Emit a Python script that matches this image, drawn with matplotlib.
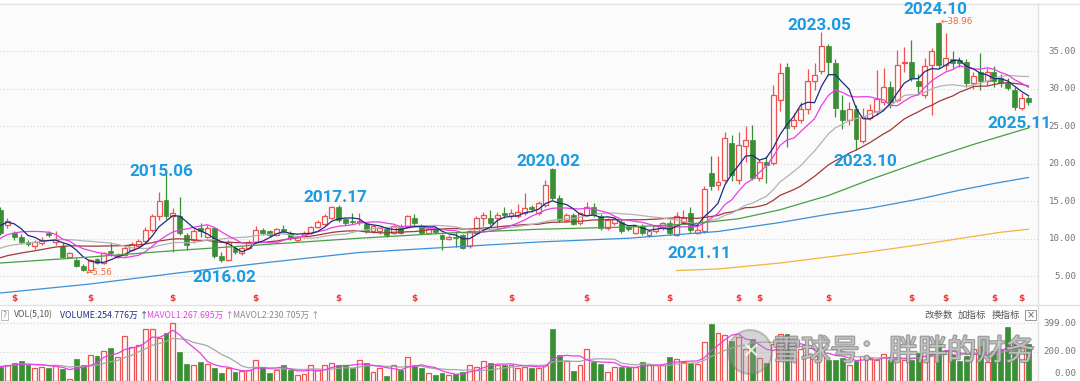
import numpy as np
import pandas as pd
import matplotlib
matplotlib.use("Agg")
import matplotlib.pyplot as plt
import matplotlib.transforms as mtransforms
import matplotlib.patheffects as pe
from matplotlib.lines import Line2D
from matplotlib.patches import Ellipse, Rectangle

plt.rcParams["font.family"] = ["DejaVu Sans", "Noto Sans CJK SC"]

# ---- monthly K-line data, 2013-06 .. 2025-11 ----
months = pd.period_range("2013-06", "2025-11", freq="M")

open_ = [
    13.9, 11.9, 10.8, 10.3, 9.6, 9.0, 9.4, 10.85, 9.6, 9.1,
    7.65, 7.2, 6.4, 5.8, 7.3, 6.85, 8.4, 7.6, 7.9, 8.55,
    9.0, 9.7, 11.2, 13.0, 15.2, 13.0, 13.0, 10.5, 9.9, 11.4,
    10.3, 11.4, 7.7, 7.2, 8.8, 8.1, 8.8, 9.65, 11.2, 11.0,
    10.55, 11.3, 10.85, 9.9, 10.3, 10.8, 11.55, 12.0, 12.8, 14.2,
    12.6, 12.4, 12.2, 12.0, 11.0, 11.0, 11.3, 10.85, 11.7, 11.6,
    12.75, 11.7, 10.8, 11.3, 10.5, 10.0, 10.3, 10.5, 9.0, 10.8,
    12.76, 12.85, 12.8, 13.5, 13.0, 13.0, 13.4, 14.2, 13.4, 14.5,
    19.3, 15.4, 12.5, 13.2, 12.1, 13.2, 14.3, 13.0, 11.4, 12.1,
    12.3, 11.65, 10.85, 11.7, 10.55, 11.0, 11.4, 12.1, 10.55, 12.3,
    13.4, 10.8, 11.0, 18.8, 17.2, 17.9, 22.8, 17.9, 22.4, 23.2,
    18.1, 20.2, 20.1, 28.5, 32.9, 25.0, 25.9, 27.3, 31.0, 32.4,
    35.7, 33.5, 27.2, 25.9, 27.3, 23.0, 26.1, 27.0, 28.3, 30.2,
    28.5, 33.4, 33.6, 31.1, 29.2, 33.2, 38.8, 33.2, 34.0, 33.8,
    33.6, 30.85, 32.2, 31.0, 32.3, 31.4, 30.85, 29.9, 27.4, 28.8,
]
high = [
    14.2, 12.8, 11.0, 10.6, 9.9, 9.8, 10.2, 11.0, 11.0, 9.4,
    8.3, 7.4, 6.6, 7.3, 7.5, 8.3, 9.6, 8.1, 9.0, 9.65,
    10.0, 11.6, 13.3, 16.3, 18.9, 14.1, 15.6, 10.8, 11.3, 12.1,
    11.8, 11.6, 8.2, 9.9, 9.0, 9.0, 9.8, 11.7, 11.4, 11.2,
    11.5, 11.8, 11.0, 10.5, 11.0, 11.7, 12.5, 13.3, 14.4, 14.5,
    12.8, 13.5, 13.5, 12.3, 11.9, 11.6, 11.5, 11.9, 12.0, 13.2,
    13.3, 12.0, 11.5, 11.5, 10.7, 10.5, 10.9, 10.7, 11.2, 13.0,
    13.6, 13.8, 13.6, 14.2, 14.0, 14.7, 16.1, 14.5, 15.0, 17.9,
    19.5, 15.9, 13.5, 13.4, 13.6, 14.9, 14.8, 13.3, 12.8, 12.9,
    12.6, 11.9, 11.9, 12.0, 11.2, 11.9, 12.3, 12.5, 13.6, 13.9,
    14.2, 11.6, 17.0, 21.0, 21.0, 24.2, 23.8, 24.2, 25.0, 25.2,
    20.6, 21.0, 30.5, 33.4, 33.4, 26.8, 28.3, 32.7, 33.4, 37.6,
    36.0, 34.0, 29.2, 28.2, 27.8, 27.5, 28.0, 32.5, 32.8, 31.0,
    35.2, 35.6, 36.5, 32.0, 34.1, 35.5, 38.96, 37.5, 35.0, 34.3,
    34.0, 32.2, 34.8, 32.8, 33.0, 32.0, 31.5, 30.3, 29.5, 29.0,
]
low = [
    10.5, 11.5, 9.9, 9.3, 9.0, 8.6, 9.2, 10.2, 9.2, 7.5,
    7.5, 6.2, 5.7, 5.56, 6.7, 6.7, 7.7, 7.4, 7.7, 8.4,
    8.8, 9.5, 10.9, 12.5, 12.7, 8.3, 10.5, 8.5, 9.5, 10.2,
    10.1, 7.4, 6.9, 7.0, 8.0, 7.9, 8.6, 9.5, 10.5, 10.3,
    10.4, 10.8, 9.9, 9.6, 10.1, 10.6, 11.4, 11.8, 12.6, 12.2,
    11.9, 12.0, 11.8, 10.8, 10.8, 10.7, 10.2, 10.7, 10.6, 11.4,
    11.6, 10.6, 10.6, 10.6, 8.5, 9.8, 8.9, 8.6, 8.8, 10.6,
    11.7, 11.9, 11.4, 12.8, 12.7, 12.8, 13.2, 13.6, 13.2, 14.3,
    15.2, 12.3, 12.3, 11.8, 11.9, 13.0, 12.9, 11.2, 11.2, 11.9,
    10.8, 11.0, 10.7, 10.5, 10.3, 10.8, 11.2, 10.5, 10.4, 12.0,
    10.8, 10.6, 10.8, 16.5, 16.5, 17.6, 17.7, 17.3, 20.3, 17.8,
    17.7, 17.4, 19.9, 27.0, 22.3, 24.6, 25.5, 26.7, 29.9, 32.0,
    31.8, 26.3, 24.6, 25.2, 21.9, 22.8, 25.8, 26.5, 27.9, 27.5,
    28.2, 32.3, 31.0, 29.5, 28.8, 26.5, 32.8, 32.5, 32.8, 32.9,
    30.3, 30.0, 29.9, 30.5, 30.3, 30.3, 29.8, 27.2, 27.2, 27.9,
]
close = [
    10.8, 12.4, 10.2, 9.65, 9.3, 9.55, 9.9, 10.5, 10.0, 7.65,
    8.1, 6.4, 5.9, 7.2, 6.85, 8.1, 8.1, 7.9, 8.75, 9.3,
    9.75, 11.2, 13.0, 15.0, 13.0, 13.4, 10.8, 9.2, 11.0, 11.0,
    11.4, 7.7, 7.2, 9.6, 8.2, 8.75, 9.6, 11.2, 10.8, 10.55,
    11.3, 11.0, 10.1, 10.3, 10.85, 11.55, 12.2, 13.0, 14.2, 12.5,
    12.1, 12.2, 12.4, 11.0, 11.7, 11.4, 10.55, 11.7, 10.85, 13.0,
    12.1, 10.85, 11.3, 10.9, 10.0, 10.3, 10.1, 8.8, 11.0, 12.75,
    13.2, 12.1, 13.2, 13.2, 13.4, 13.6, 14.1, 14.0, 14.75, 17.2,
    15.4, 12.5, 13.2, 12.0, 13.4, 14.3, 13.2, 11.4, 12.5, 12.6,
    11.0, 11.3, 11.7, 10.8, 11.0, 11.7, 12.1, 10.8, 13.0, 12.75,
    11.2, 11.2, 16.7, 17.1, 17.65, 23.4, 18.5, 22.5, 23.2, 18.1,
    20.3, 19.9, 29.2, 32.1, 24.8, 25.9, 27.3, 31.0, 31.9, 35.7,
    33.6, 27.4, 25.9, 27.3, 23.3, 26.3, 27.2, 28.6, 30.2, 28.3,
    33.2, 33.6, 31.4, 30.4, 33.1, 35.1, 33.2, 34.1, 33.4, 33.5,
    30.8, 31.7, 31.1, 32.3, 31.0, 30.8, 30.1, 27.6, 28.8, 28.2,
]
# volume, 万
volume = [
    100, 108, 124, 136, 112, 93, 100, 88, 112, 81,
    12, 153, 112, 177, 172, 208, 227, 167, 311, 232,
    250, 363, 363, 300, 332, 399, 198, 117, 112, 131,
    117, 90, 53, 88, 60, 69, 76, 148, 100, 53,
    76, 108, 76, 41, 45, 108, 76, 112, 124, 112,
    112, 88, 148, 124, 65, 88, 36, 112, 76, 167,
    112, 93, 53, 41, 53, 41, 45, 65, 112, 100,
    136, 124, 112, 112, 112, 93, 100, 93, 93, 112,
    363, 179, 141, 72, 112, 220, 131, 120, 65, 100,
    100, 100, 96, 129, 112, 112, 112, 165, 155, 131,
    124, 117, 272, 392, 330, 315, 280, 304, 220, 292,
    160, 124, 256, 327, 327, 160, 220, 184, 172, 232,
    148, 148, 160, 112, 136, 172, 160, 148, 184, 148,
    160, 148, 148, 196, 208, 184, 256, 208, 184, 136,
    170, 220, 240, 130, 208.57, 220.7, 375, 256, 232, 254.776,
]
# closes 2011-01 .. 2013-05 (left of the window), only feed MA5..MA30
pre_close = [
    4.4, 4.6, 4.5, 4.8, 5.0, 4.9, 5.2, 5.4, 5.3, 5.6,
    6.6, 6.9, 7.2, 7.0, 7.4, 7.8, 7.5, 7.9, 8.2, 8.0,
    7.6, 7.9, 8.3, 8.8, 9.4, 10.2, 11.3, 12.8, 13.9,
]

# long averages
ma60_month = ["2013-06", "2014-07", "2015-08", "2016-09", "2017-10", "2018-11",
              "2019-12", "2021-01", "2021-10", "2022-05", "2022-11", "2023-06",
              "2023-12", "2024-08", "2025-03", "2025-11"]
ma60_value = [6.8, 7.6, 8.5, 9.3, 10.1, 10.8, 11.3, 11.6, 12.0, 12.7, 13.9, 15.8,
              17.9, 20.5, 22.6, 24.8]
ma120_month = ["2013-06", "2014-07", "2015-08", "2016-09", "2017-10", "2018-11",
               "2019-12", "2021-01", "2022-02", "2022-11", "2023-06", "2023-12",
               "2024-07", "2025-01", "2025-06", "2025-11"]
ma120_value = [2.8, 4.0, 5.5, 6.9, 8.2, 8.9, 9.6, 10.1, 11.0, 12.2, 13.3, 14.1,
               15.3, 16.5, 17.4, 18.2]
ma250_month = ["2021-08", "2022-02", "2022-11", "2023-06", "2023-12", "2024-07",
               "2025-02", "2025-07", "2025-11"]
ma250_value = [5.8, 6.0, 6.8, 7.6, 8.3, 9.2, 10.2, 10.9, 11.3]

dividend_month = ["2013-08", "2014-07", "2015-07", "2016-07", "2017-07", "2018-06",
                  "2019-08", "2020-07", "2021-07", "2022-05", "2022-08", "2023-06",
                  "2024-06", "2024-11", "2025-06", "2025-10"]

# blue labels: text, centre in pixels
labels = [
    ("2015.06", 161, 171), ("2016.02", 224, 278), ("2017.17", 335, 197),
    ("2020.02", 548, 162), ("2021.11", 699, 253), ("2023.05", 819, 25),
    ("2023.10", 865, 161), ("2024.10", 935, 9), ("2025.11", 1019, 123),
]

# ---- figure ----
W, H = 1080, 381
BG = "#fbfbfb"
RED, GREEN = "#ef5350", "#3a8f35"


def fx(x):
    return x / W


def fy(y):
    return 1 - y / H


fig = plt.figure(figsize=(W / 100, H / 100), dpi=100)
fig.patch.set_facecolor("white")

ax = fig.add_axes([0, fy(305), fx(1038), fy(4) - fy(305)])
axv = fig.add_axes([0, 0, fx(1038), fy(321)])
XLIM = (-0.06, 150.38)
for a in (ax, axv):
    a.set_facecolor(BG)
    a.set_xticks([])
    a.set_yticks([])
    a.set_xlim(*XLIM)
    for s in a.spines.values():
        s.set_visible(False)
ax.set_ylim(1.2, 41.33)
axv.set_ylim(0, 415)

idx = {str(p): i for i, p in enumerate(months)}
x = np.arange(len(months))
o, h, l, c = (np.array(v, dtype=float) for v in (open_, high, low, close))
vol = np.array(volume, dtype=float)
up = c >= o
lo_b, hi_b = np.minimum(o, c), np.maximum(o, c)
body = np.maximum(hi_b - lo_b, 0.06)

# grid
grid_kw = dict(colors="#d4d4d4", linestyles=(0, (1, 2)), linewidth=0.8, zorder=0)
ax.hlines(np.arange(5, 40, 5), *XLIM, **grid_kw)
axv.hlines([200, 399], *XLIM, **grid_kw)

# candles
ax.vlines(x[~up], l[~up], h[~up], color=GREEN, lw=0.9, zorder=2)
ax.bar(x[~up], body[~up], bottom=lo_b[~up], width=0.72, color=GREEN,
       edgecolor=GREEN, lw=0.5, zorder=2)
ax.vlines(x[up], hi_b[up], h[up], color=RED, lw=0.9, zorder=2)
ax.vlines(x[up], l[up], lo_b[up], color=RED, lw=0.9, zorder=2)
ax.bar(x[up], body[up], bottom=lo_b[up], width=0.72, facecolor=BG,
       edgecolor=RED, lw=0.9, zorder=2)

# moving averages
hist = pd.Series(pre_close + close, dtype=float)
n0 = len(pre_close)
ma_colors = {5: "#1c2a80", 10: "#e640e6", 20: "#b3b3b3", 30: "#9e3a3a"}
for n in (30, 20, 10, 5):
    ma = hist.rolling(n).mean().to_numpy()[n0:]
    ax.plot(x, ma, color=ma_colors[n], lw=0.9, zorder=3)
for months_, vals, col in [(ma60_month, ma60_value, "#4a9e45"),
                           (ma120_month, ma120_value, "#3d8fd6"),
                           (ma250_month, ma250_value, "#f2b441")]:
    ax.plot([idx[m] for m in months_], vals, color=col, lw=0.9, zorder=3)

# high / low marks
ax.text(x[13] - 0.7, l[13], "←5.56", ha="left", va="center", color="#f06a35",
        fontsize=6.3)
ax.text(x[136] + 0.2, h[136], "←38.96", ha="left", va="center", color="#f06a35",
        fontsize=6.3)

# dividend marks
for m in dividend_month:
    ax.text(idx[m], 2.13, "$", ha="center", va="center", color="#e53935",
            fontsize=6.5, fontweight="bold")

for text, cx, cy in labels:
    fig.text(fx(cx), fy(cy), text, ha="center", va="center", fontsize=12.3,
             fontweight="bold", color="#1d9be2", family=["Roboto", "DejaVu Sans"])

# volume
axv.bar(x[~up], vol[~up], width=0.72, color=GREEN, edgecolor=GREEN, lw=0.5,
        zorder=2)
axv.bar(x[up], vol[up], width=0.72, facecolor=BG, edgecolor=RED, lw=0.9,
        zorder=2)
vs = pd.Series(vol)
mavol1 = vs.rolling(5, min_periods=1).mean()
mavol2 = vs.rolling(10, min_periods=1).mean()
axv.plot(x, mavol2, color="#a8a8a8", lw=0.9, zorder=3)
axv.plot(x, mavol1, color="#e640e6", lw=0.9, zorder=3)

# price / volume scale labels
trans = mtransforms.blended_transform_factory(fig.transFigure, ax.transData)
for p in range(5, 40, 5):
    fig.text(fx(1076), p, f"{p:.2f}", transform=trans, ha="right", va="center",
             fontsize=6.6, color="#777777", family="DejaVu Sans Mono")
for txt, yy in [("399.00", 323), ("200.00", 351), ("0.00", 373)]:
    fig.text(fx(1076), fy(yy), txt, ha="right", va="center", fontsize=6.6,
             color="#777777", family="DejaVu Sans Mono")

# header of volume panel
hdr_font = ["Noto Sans CJK SC", "DejaVu Sans"]
fig.add_artist(Rectangle((fx(1), fy(320)), fx(7), fy(310) - fy(320),
                         transform=fig.transFigure, fill=False,
                         edgecolor="#bbbbbb", lw=0.7))
fig.text(fx(4.5), fy(315), "?", ha="center", va="center", fontsize=5.5,
         color="#888888")
header = [
    ("VOL(5,10)", 14, "#555555"),
    (f"VOLUME:{vol[-1]:.3f}万 ↑", 60, "#1c2a80"),
    (f"MAVOL1:{mavol1.iloc[-1]:.3f}万 ↑", 147, "#e640e6"),
    (f"MAVOL2:{mavol2.iloc[-1]:.3f}万 ↑", 233, "#888888"),
]
for txt, px, col in header:
    fig.text(fx(px), fy(315), txt, ha="left", va="center", fontsize=6.3,
             color=col, family=hdr_font)

for txt, px in [("改参数", 924), ("加指标", 958), ("换指标", 992)]:
    fig.text(fx(px), fy(315), txt, ha="left", va="center", fontsize=6.8,
             color="#555555", family=["Noto Sans CJK SC", "DejaVu Sans"])
fig.add_artist(Rectangle((fx(1025), fy(320)), fx(11), fy(310) - fy(320),
                         transform=fig.transFigure, fill=False,
                         edgecolor="#999999", lw=0.7))
fig.text(fx(1030.5), fy(315), "×", ha="center", va="center", fontsize=7,
         color="#666666")

# frame lines
line_kw = dict(color="#e2e2e2", lw=1, transform=fig.transFigure)
fig.add_artist(Line2D([0, 1], [fy(4), fy(4)], **line_kw))
fig.add_artist(Line2D([0, 1], [fy(305), fy(305)], **line_kw))
fig.add_artist(Line2D([fx(1038), fx(1038)], [0, fy(4)], **line_kw))

# watermark
fig.add_artist(Ellipse((fx(750), fy(352)), fx(44), 44 / H,
                       transform=fig.transFigure, facecolor="#9a9a9a",
                       edgecolor="#777777", alpha=0.4, lw=1.5, zorder=10))
fig.text(fx(750), fy(352), "✕", ha="center", va="center", fontsize=16,
         color="white", alpha=0.8, zorder=11)
fig.text(fx(772), fy(352), "雪球号：胖胖的财务", ha="left", va="center",
         fontsize=21, color="#d0d0d0", alpha=0.75, zorder=11,
         family=["Noto Sans CJK SC", "DejaVu Sans"],
         path_effects=[pe.withStroke(linewidth=1.6, foreground="#7a7a7a")])

fig.savefig("out.png", dpi=100, facecolor=fig.get_facecolor())
plt.close(fig)
print("Saved out.png")
